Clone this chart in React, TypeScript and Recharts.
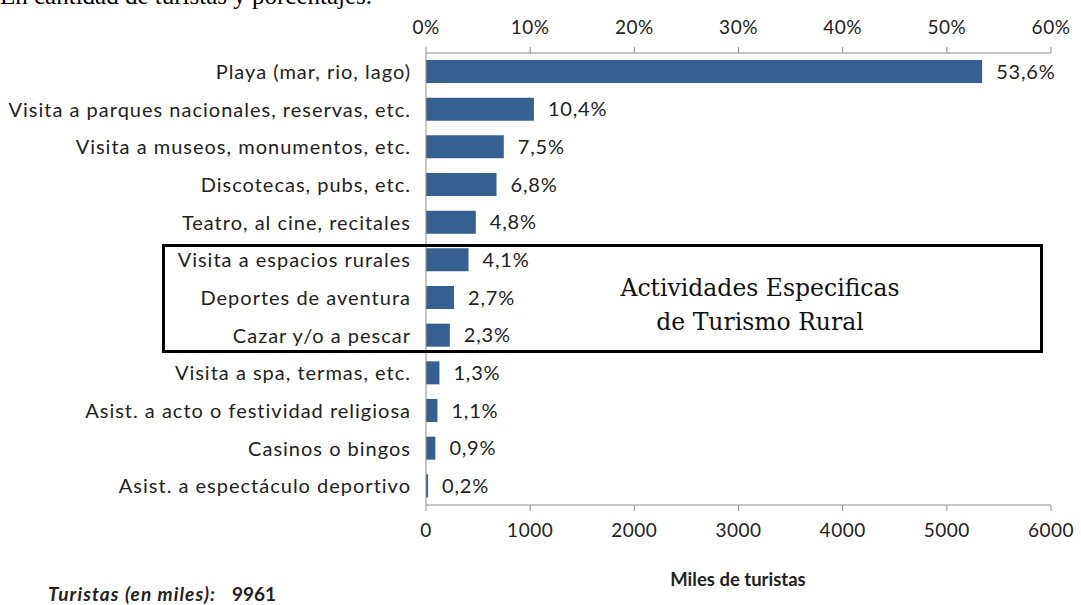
import React from "react";
import { BarChart, Bar, XAxis, YAxis, LabelList } from "recharts";

const categories = [
  "Playa (mar, rio, lago)",
  "Visita a parques nacionales, reservas, etc.",
  "Visita a museos, monumentos, etc.",
  "Discotecas, pubs, etc.",
  "Teatro, al cine, recitales",
  "Visita a espacios rurales",
  "Deportes de aventura",
  "Cazar y/o a pescar",
  "Visita a spa,  termas, etc.",
  "Asist. a acto o festividad religiosa",
  "Casinos o bingos",
  "Asist. a espectáculo deportivo",
];

// miles de turistas
const turistas = [5339, 1036, 747, 677, 478, 408, 269, 229, 129, 110, 90, 20];
const porcentajes = ["53,6%", "10,4%", "7,5%", "6,8%", "4,8%", "4,1%", "2,7%", "2,3%", "1,3%", "1,1%", "0,9%", "0,2%"];

const milesTicks = [0, 1000, 2000, 3000, 4000, 5000, 6000];
const pctTickLabels = ["0%", "10%", "20%", "30%", "40%", "50%", "60%"];

const font = "Lato, 'Open Sans', sans-serif";
const textColor = "#222";
const axisColor = "#8c8c8c";
const barColor = "#36608f";

const data = categories.map((name, i) => ({ name, turistas: turistas[i], pct: porcentajes[i] }));

export default function App() {
  return (
    <div style={{ position: "fixed", left: 0, top: 0, width: 1081, height: 605, background: "#fff", overflow: "hidden" }}>
      <div style={{ position: "absolute", left: 0, top: -19, fontFamily: "'Liberation Serif', serif", fontSize: 25, lineHeight: "29px", color: "#000", whiteSpace: "nowrap" }}>
        En cantidad de turistas y porcentajes.
      </div>
      <BarChart
        width={1081}
        height={605}
        data={data}
        layout="vertical"
        margin={{ top: 0, right: 30, bottom: 0, left: 0 }}
      >
        <XAxis
          xAxisId="pct"
          type="number"
          orientation="top"
          domain={[0, 6000]}
          allowDataOverflow
          ticks={milesTicks}
          tickFormatter={(v, i) => pctTickLabels[i]}
          height={53}
          stroke={axisColor}
          tickSize={6}
          tickMargin={13}
          tick={{ fill: textColor, fontSize: 19, fontFamily: font, letterSpacing: 0.5 }}
        />
        <XAxis
          xAxisId="miles"
          type="number"
          orientation="bottom"
          domain={[0, 6000]}
          allowDataOverflow
          ticks={milesTicks}
          height={100}
          stroke={axisColor}
          tickSize={6}
          tickMargin={13}
          tick={{ fill: textColor, fontSize: 19, fontFamily: font, letterSpacing: 0.5 }}
        />
        <YAxis
          type="category"
          dataKey="name"
          width={426}
          stroke={axisColor}
          tickLine={false}
          tickMargin={9}
          interval={0}
          tick={{ fill: textColor, fontSize: 20, fontFamily: font, letterSpacing: 1 }}
        />
        <Bar xAxisId="miles" dataKey="turistas" fill={barColor} barSize={23} isAnimationActive={false}>
          <LabelList
            dataKey="pct"
            position="right"
            offset={14}
            fill={textColor}
            fontSize={20}
            fontFamily={font}
            letterSpacing={0.8}
          />
        </Bar>
      </BarChart>
      <div style={{ position: "absolute", left: 162, top: 244, width: 881, height: 109, border: "3px solid #000", boxSizing: "border-box", pointerEvents: "none" }} />
      <div style={{ position: "absolute", left: 560, top: 271, width: 400, textAlign: "center", fontFamily: "'DejaVu Serif', serif", fontSize: 23.5, lineHeight: "34px", color: "#111" }}>
        Actividades Especificas<br />de Turismo Rural
      </div>
      <div style={{ position: "absolute", left: 538, top: 568, width: 400, textAlign: "center", fontFamily: font, fontWeight: 700, fontSize: 18.5, color: textColor }}>
        Miles de turistas
      </div>
      <div style={{ position: "absolute", left: 48, top: 582, fontFamily: font, fontSize: 19, color: textColor, whiteSpace: "nowrap" }}>
        <span style={{ fontWeight: 700, fontStyle: "italic", letterSpacing: 1.1 }}>Turistas (en miles):</span>
        <span style={{ fontWeight: 700, marginLeft: 16 }}>9961</span>
      </div>
    </div>
  );
}
